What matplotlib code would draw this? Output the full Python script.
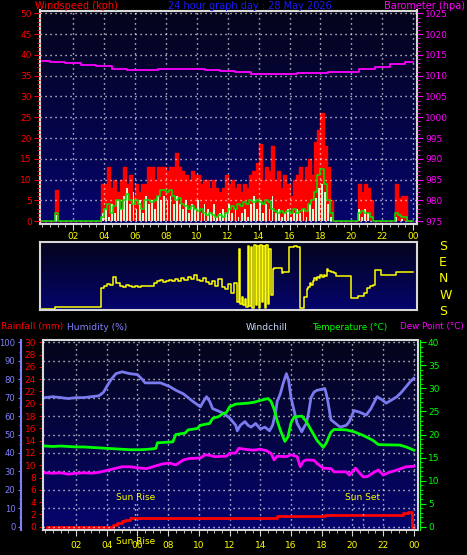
import matplotlib
matplotlib.use('Agg')
import matplotlib.pyplot as plt
import numpy as np
from matplotlib.colors import LinearSegmentedColormap
from matplotlib.ticker import MultipleLocator

# ---- wind (0.2 h bins, starting 00:00) ----
wind_step = 0.2
gust = [0, 0, 0, 0, 7.5, 0, 0, 0, 0, 0, 0, 0, 0, 0, 0, 0, 0, 0, 0,
        9, 9, 13, 8, 10, 7, 10, 13, 9, 11,
        6, 9, 7, 9, 9, 13, 13, 10, 13, 13,
        13, 12, 13, 13, 16.5, 13, 12, 11, 10, 12,
        11, 11, 9, 10, 10, 8, 10, 8, 7, 8,
        11, 9, 10, 8, 9, 7, 9, 8, 11, 12,
        14, 18.5, 10, 13, 12, 18, 10, 12, 8, 11,
        9, 6, 10, 11, 13, 10, 13, 15, 11, 19,
        22, 26, 18, 13, 5,
        0, 0, 0, 0, 0, 0, 0, 0,
        9, 7, 9, 8, 5,
        0, 0, 0, 0, 0, 0, 0,
        9, 5.5, 6, 6, 0, 0]
speed = [0, 0, 0, 0, 1.5, 0, 0, 0, 0, 0, 0, 0, 0, 0, 0, 0, 0, 0, 0,
         2, 3, 1, 4, 2, 5, 3, 6, 8, 4,
         7, 3, 5, 2, 6, 4, 5, 3, 6, 5,
         6, 5, 6, 4, 6, 4, 3, 5, 2, 4,
         3, 5, 2, 4, 3, 2, 4, 1, 2, 3,
         2, 4, 2, 3, 1, 2, 3, 1, 4, 6,
         3, 5, 2, 4, 3, 6, 2, 3, 1, 2,
         3, 1, 2, 3, 2, 3, 1, 4, 3, 5.5,
         8, 9, 7, 4, 1,
         0, 0, 0, 0, 0, 0, 0, 0,
         3, 1, 3, 2, 0,
         0, 0, 0, 0, 0, 0, 0,
         1, 0, 0.5, 0, 0, 0]
avg = [0, 0, 0, 0, 2, 0, 0, 0, 0, 0, 0, 0, 0, 0, 0, 0, 0, 0, 0,
       1, 3, 4, 2, 3.5, 5, 3, 5, 6.5, 5,
       4, 5, 4, 3, 5, 5, 4.5, 5, 6, 7.5,
       7.5, 7, 7.5, 6, 5, 5.5, 4, 3.5, 3, 3.5,
       3, 2.5, 3, 2, 1.5, 2, 1.5, 1, 1.5, 1,
       2, 3, 3.5, 3, 4, 3.5, 4.5, 4, 5, 4.5,
       5, 4.5, 4, 5, 4.5, 3, 2.5, 2, 2.5, 2,
       2.5, 2, 3, 2, 2.5, 3, 2.5, 4, 5, 7,
       11, 12.5, 9, 5, 2,
       0, 0, 0, 0, 0, 0, 0, 0,
       2, 2.5, 2, 2, 1,
       0, 0, 0, 0, 0, 0, 0,
       2, 1.5, 1, 1, 0, 0]

baro_hours = list(range(25))
baro = [1013.5, 1013.3, 1013.0, 1012.7, 1012.3, 1011.7, 1011.5, 1011.5, 1011.6,
        1011.7, 1011.6, 1011.5, 1011.2, 1011.0, 1010.4, 1010.5, 1010.4, 1010.6,
        1010.7, 1010.8, 1011.0, 1011.6, 1012.2, 1012.9, 1013.4]

# ---- wind direction ----
dir_a = [7, 7, 7, 7] + [18] * 15 + [
    115, 128, 135, 132, 176, 140, 128, 122, 130, 124,
    120, 125, 122, 127, 124, 128, 126, 140, 150, 158,
    145, 150, 160, 152, 165, 150, 168, 160, 172, 162,
    182, 160, 150, 168, 145, 135, 150, 125, 165, 120,
    110, 135, 88, 140]
dir_b_start = 12.6
dir_b = [44, 320, 30, 70, 25, 60, 15, 338, 20, 330, 8, 340,
         25, 335, 10, 342, 40, 338, 12, 340, 30, 320, 80, 215]
dir_c_hours = [15.0, 15.5, 15.6, 15.95, 16.3, 16.5, 16.7, 16.95, 17.1, 17.2, 17.3,
               17.4, 17.5, 17.6, 17.7, 17.8, 17.9, 18.0, 18.1, 18.2, 18.3, 18.4,
               18.5, 18.7, 18.9, 19.0, 20.0, 20.4, 20.8, 21.0, 21.2, 21.4, 21.5,
               21.95, 22.9, 23.0, 24.0]
dir_c = [220, 195, 202, 330, 338, 330, 9, 70, 110, 123, 140,
         132, 155, 167, 160, 175, 168, 184, 176, 186, 180, 214,
         205, 200, 193, 179, 65, 74, 88, 114, 126, 132, 211,
         184, 198, 202, 202]
dir_labels = ['S', 'W', 'N', 'E', 'S']

# ---- lower panel ----
hum_hours = [0, 0.5, 1, 1.5, 2, 2.5, 3, 3.5, 3.8, 4.0, 4.3, 4.6, 5.0, 5.5, 6.0, 6.3,
             6.5, 7.5, 8.1, 8.5, 9.0, 9.3, 9.6, 10.1, 10.3, 10.5, 10.7, 10.9, 11.2,
             11.6, 12.0, 12.2, 12.4, 12.5, 12.7, 13.0, 13.2, 13.4, 13.7, 14.0, 14.3,
             14.6, 14.8, 15.0, 15.1, 15.3, 15.5, 15.7, 15.85, 16.0, 16.2, 16.4, 16.7,
             16.85, 17.0, 17.15, 17.3, 17.5, 17.7, 18.0, 18.2, 18.3, 18.4, 18.6,
             18.9, 19.2, 19.6, 19.8, 20.1, 20.5, 20.9, 21.2, 21.6, 21.9, 22.2, 22.6,
             22.9, 23.2, 23.5, 23.8, 24.0]
humidity = [70, 70.5, 70, 69.5, 70, 70, 70.5, 71, 73, 76, 80, 83, 84, 83, 82.5, 80,
            78, 78, 76, 74, 72, 70, 68, 65, 68, 70.5, 68, 64, 63,
            61.5, 59, 57, 55, 52, 55, 57, 55, 54, 56, 53, 54,
            52, 55, 62, 68, 72, 78, 83, 79, 70, 63, 56, 51.5,
            54, 56, 62, 70, 73, 74, 74.5, 75, 72, 68, 58,
            56, 54, 55, 57, 63, 62, 60.5, 64, 70.5, 69, 67, 69,
            70.5, 73, 76, 79, 80.5]

temp_hours = [0, 0.5, 1, 1.5, 2, 2.5, 3, 3.5, 4, 4.5, 5, 5.5, 6.2, 6.7, 7.0, 7.2, 7.3,
              8.3, 8.4, 8.5, 9.1, 9.3, 9.9, 10.1, 10.7, 10.9, 11.3, 11.5, 11.8, 12.0,
              12.4, 13.2, 13.6, 14.0, 14.5, 14.7, 14.9, 15.1, 15.3, 15.6, 15.8, 16.0,
              16.2, 16.7, 17.0, 17.3, 17.7, 18.1, 18.3, 18.6, 18.8, 19.6, 20.1, 20.7,
              21.3, 21.7, 23.1, 23.5, 24.0]
temperature = [17.5, 17.4, 17.5, 17.4, 17.3, 17.3, 17.2, 17.1, 17.0, 16.9, 16.8, 16.7,
               16.7, 16.8, 16.9, 17.0, 18.2, 18.4, 19.2, 20.0, 20.3, 21.0, 21.3, 22.0,
               22.4, 23.5, 23.9, 24.4, 24.8, 26.0, 26.6, 26.8, 27.0, 27.4, 27.8, 27.2,
               25.5, 23.0, 21.0, 18.5, 19.5, 22.5, 23.8, 24.0, 22.8, 21.0, 18.7, 17.2,
               18.2, 20.5, 21.1, 21.0, 20.6, 19.8, 18.8, 17.8, 17.7, 17.3, 16.6]

dew_hours = [0, 0.5, 1, 1.5, 2, 2.5, 3, 3.5, 4, 4.5, 5, 5.5, 6.2, 6.6, 7.0, 7.6, 8.1,
             8.5, 9.0, 9.4, 10.1, 10.4, 10.7, 11.0, 11.8, 12.0, 12.4, 12.6, 13.0,
             13.5, 14.0, 14.4, 14.7, 14.9, 15.1, 15.7, 16.0, 16.4, 16.6, 16.8, 17.0,
             17.5, 17.7, 18.1, 18.6, 18.8, 19.6, 19.8, 20.2, 20.5, 20.7, 21.0, 21.4,
             21.7, 22.0, 22.4, 22.9, 23.5, 24.0]
dew_point = [11.7, 11.6, 11.7, 11.4, 11.6, 11.7, 11.6, 11.8, 12.2, 12.6, 13.0, 13.0,
             12.7, 12.6, 13.0, 13.6, 13.8, 13.4, 14.5, 14.8, 14.9, 15.6, 15.5, 15.2,
             15.3, 15.9, 16.0, 17.0, 16.8, 16.6, 16.8, 16.5, 15.9, 14.5, 15.3, 15.2,
             15.6, 15.2, 13.0, 14.2, 14.5, 14.4, 13.7, 12.7, 12.6, 11.9, 11.9, 11.2,
             12.7, 11.5, 10.8, 10.9, 11.8, 12.3, 11.2, 11.8, 12.3, 13.0, 13.1]

rain_hours = [0.1, 4.43, 4.65, 4.97, 5.19, 5.51, 15.06, 18.2, 23.3, 23.6, 23.85, 24.0]
rainfall = [0, 0.27, 0.65, 0.87, 1.09, 1.46, 1.7, 1.95, 2.15, 2.45, 0, 0]

sunrise = 5.86
sunset = 20.68

hour_ticks = list(range(2, 25, 2))
hour_labels = ['%02d' % (h % 24) for h in hour_ticks]

W, H = 467, 555
XLIM = (-0.15, 24.25)
DOT = (0, (0.8, 2.8))
SPINE = '#d8d8d8'
YEL = '#ffff00'
PT = 72 / 100  # points per pixel
bg_cmap = LinearSegmentedColormap.from_list('bg', ['#05051a', '#04046e'])


def box(x0, y0, x1, y1):
	return [x0 / W, 1 - y1 / H, (x1 - x0) / W, (y1 - y0) / H]


def panel(fig, rect):
	bg = fig.add_axes(rect, zorder=-1)
	bg.imshow(np.linspace(0, 1, 256).reshape(-1, 1), cmap=bg_cmap, aspect='auto')
	bg.axis('off')
	ax = fig.add_axes(rect)
	ax.set_facecolor('none')
	for s in ax.spines.values():
		s.set_color(SPINE)
		s.set_linewidth(1.5)
	ax.set_xlim(*XLIM)
	return ax


def hour_axis(ax):
	ax.set_xticks(hour_ticks)
	ax.set_xticklabels(hour_labels)
	ax.xaxis.set_minor_locator(MultipleLocator(0.5))
	ax.tick_params(axis='x', which='major', colors=SPINE, labelcolor=YEL, length=4, labelsize=6.5, pad=2)
	ax.tick_params(axis='x', which='minor', colors=SPINE, length=2)


def main():
	fig = plt.figure(figsize=(W / 100, H / 100), dpi=100, facecolor='black')

	# ---------- wind speed / barometer ----------
	ax = panel(fig, box(40, 10.5, 417, 224))
	wh = np.arange(len(gust)) * wind_step
	ax.bar(wh, gust, width=wind_step, align='edge', color='#ff0000', lw=0, zorder=1.5)
	ax.step(np.append(wh, 24), np.append(gust, 0), where='post', color='#ff0000', lw=1, zorder=1.6)
	ax.bar(wh + 0.04, speed, width=0.12, align='edge', color='#d4f7d4', lw=0, zorder=1.7)
	ax.step(np.append(wh, 24), np.append(avg, 0), where='post', color='#00e000', lw=1.1, zorder=3)
	ax.set_ylim(-0.72, 50.72)
	ax.set_yticks(range(0, 51, 5))
	ax.yaxis.set_minor_locator(MultipleLocator(1))
	ax.tick_params(axis='y', which='major', colors='#ff0000', length=4, labelsize=6.5, pad=2)
	ax.tick_params(axis='y', which='minor', colors='#ff0000', length=2)
	hour_axis(ax)
	ax.grid(True, color='white', linestyle=DOT, lw=1)
	ax.set_axisbelow(False)

	axb = ax.twinx()
	axb.plot(baro_hours, baro, drawstyle='steps-mid', color='#ff00ff', lw=1.3)
	axb.set_ylim(975 - 0.72, 1025.72)
	axb.set_yticks(range(975, 1026, 5))
	axb.yaxis.set_minor_locator(MultipleLocator(1))
	axb.tick_params(axis='y', which='major', colors='#ff00ff', length=4, labelsize=6.5, pad=2)
	axb.tick_params(axis='y', which='minor', colors='#ff00ff', length=2)
	for s in axb.spines.values():
		s.set_visible(False)

	fig.text(35 / W, 1 - 6 / H, 'Windspeed (kph)', color='#ff0000', fontsize=7, va='center')
	fig.text(250 / W, 1 - 6 / H, '24 hour graph day : 28 May 2026', color='#1a1aff', fontsize=7, va='center', ha='center')
	fig.text(465 / W, 1 - 6 / H, 'Barometer (hpa)', color='#ff00ff', fontsize=7, va='center', ha='right')

	# ---------- wind direction ----------
	axd = panel(fig, box(40, 241.5, 417, 310))
	dh = list(np.arange(len(dir_a)) * 0.2) + list(dir_b_start + np.arange(len(dir_b)) * 0.1) + dir_c_hours
	dv = dir_a + dir_b + dir_c
	axd.plot(dh, dv, drawstyle='steps-post', color=YEL, lw=1.1)
	axd.set_ylim(0, 360)
	axd.set_xticks([])
	axd.yaxis.tick_right()
	axd.set_yticks(np.linspace(0, 343, 5))
	axd.set_yticklabels(dir_labels)
	axd.tick_params(axis='y', colors=YEL, length=0, labelsize=9, pad=16)

	# ---------- rain / humidity / temperature ----------
	axr = panel(fig, box(43, 340, 417.7, 530))
	axr.plot(rain_hours, rainfall, drawstyle='steps-post', color='#ff0000', lw=2)
	axr.set_ylim(-0.537, 30.374)
	axr.set_yticks(range(0, 31, 2))
	axr.yaxis.set_minor_locator(MultipleLocator(0.5))
	axr.tick_params(axis='y', which='major', colors='#ff0000', length=3, labelsize=6.5, pad=2)
	axr.tick_params(axis='y', which='minor', colors='#ff0000', length=1.5)
	hour_axis(axr)
	axr.tick_params(axis='x', which='major', pad=4)
	axr.grid(True, axis='x', color='white', linestyle=DOT, lw=1)
	axr.vlines([sunrise, sunset], -0.5, 3.9, colors='white', linestyles=DOT, lw=1)
	axr.text(sunrise, 4.8, 'Sun Rise', color=YEL, fontsize=6.5, ha='center', va='center')
	axr.text(sunset, 4.8, 'Sun Set', color=YEL, fontsize=6.5, ha='center', va='center')
	axr.text(sunrise, -0.058, 'Sun Rise', color=YEL, fontsize=6.5, ha='center', va='center',
	         transform=axr.get_xaxis_transform())

	axh = axr.twinx()
	axh.yaxis.tick_left()
	axh.spines['left'].set_position(('outward', 22 * PT))
	axh.spines['left'].set_visible(True)
	axh.spines['left'].set_color('#8080ff')
	axh.spines['left'].set_linewidth(1.5)
	for side in ('right', 'top', 'bottom'):
		axh.spines[side].set_visible(False)
	axh.plot(hum_hours, humidity, color='#7b7bef', lw=2)
	axh.set_ylim(-1.79, 101.25)
	axh.set_yticks(range(0, 101, 10))
	axh.yaxis.set_minor_locator(MultipleLocator(5))
	axh.tick_params(axis='y', which='major', colors='#8080ff', length=2.5, labelsize=6.1, pad=1.5)
	axh.tick_params(axis='y', which='minor', colors='#8080ff', length=1.5)
	axh.grid(True, axis='y', color='white', linestyle=DOT, lw=1)
	axh.set_axisbelow(True)

	axt = axr.twinx()
	for side in ('left', 'top', 'bottom'):
		axt.spines[side].set_visible(False)
	axt.spines['right'].set_position(('outward', 2 * PT))
	axt.spines['right'].set_color('#00ff00')
	axt.plot(temp_hours, temperature, color='#00ff00', lw=2)
	axt.plot(dew_hours, dew_point, color='#ff00ff', lw=2)
	axt.set_ylim(-0.716, 40.5)
	axt.set_yticks(range(0, 41, 5))
	axt.yaxis.set_minor_locator(MultipleLocator(1))
	axt.tick_params(axis='y', which='major', colors='#00ff00', length=4, labelsize=6.5, pad=2)
	axt.tick_params(axis='y', which='minor', colors='#00ff00', length=2)

	ly = 1 - 327 / H
	fig.text(1 / W, ly, 'Rainfall (mm)', color='#ff0000', fontsize=6.6, va='center')
	fig.text(67 / W, ly, 'Humidity (%)', color='#8080ff', fontsize=6.6, va='center')
	fig.text(246 / W, ly, 'Windchill', color='#c8dcff', fontsize=6.6, va='center')
	fig.text(312 / W, ly, 'Temperature (°C)', color='#00ff00', fontsize=6.3, va='center')
	fig.text(464 / W, ly, 'Dew Point (°C)', color='#ff00ff', fontsize=6.3, va='center', ha='right')

	fig.savefig('out.png', dpi=100, facecolor='black')


if __name__ == '__main__':
	main()
